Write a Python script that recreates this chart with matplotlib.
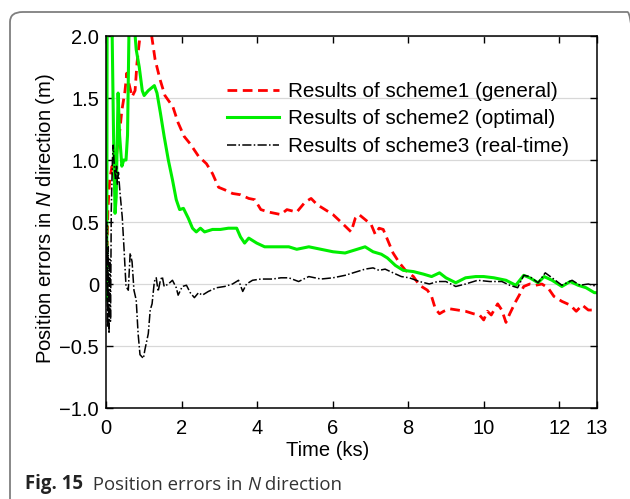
import matplotlib
matplotlib.use("Agg")
import matplotlib.pyplot as plt
from matplotlib.patches import FancyBboxPatch

# Time axis (ks) and position errors (m) for the three schemes
t_s1 = [0.0, 0.03, 0.05, 0.1, 0.16, 0.22, 0.3, 0.37, 0.42, 0.5, 0.55, 0.62, 0.69, 0.77, 0.82, 0.86,
        0.92, 1.05, 1.2, 1.3, 1.43, 1.56, 1.77, 1.91, 2.07, 2.23, 2.45, 2.66, 2.82, 2.98, 3.14,
        3.35, 3.56, 3.78, 3.94, 4.1, 4.31, 4.63, 4.79, 5.05, 5.27, 5.43, 5.59, 5.8, 6.01, 6.22,
        6.49, 6.6, 6.7, 6.86, 7.02, 7.13, 7.23, 7.34, 7.45, 7.6, 7.77, 7.93, 8.14, 8.3, 8.51,
        8.62, 8.72, 8.83, 8.94, 9.1, 9.31, 9.52, 9.73, 9.89, 10.0, 10.1, 10.2, 10.37, 10.48,
        10.59, 10.69, 10.85, 10.96, 11.06, 11.22, 11.38, 11.54, 11.7, 11.86, 12.07, 12.29,
        12.45, 12.61, 12.77, 12.93, 13.0]
err_s1 = [-0.1, 0.3, 0.6, 0.85, 0.95, 0.85, 1.1, 1.25, 1.4, 1.55, 1.7, 1.6, 1.51, 1.56, 1.78, 1.89,
          2.05, 2.25, 2.02, 1.81, 1.65, 1.52, 1.43, 1.30, 1.19, 1.13, 1.03, 0.97, 0.89, 0.78, 0.76,
          0.73, 0.72, 0.69, 0.68, 0.60, 0.58, 0.56, 0.60, 0.58, 0.66, 0.69, 0.64, 0.60, 0.56, 0.50,
          0.42, 0.53, 0.56, 0.52, 0.48, 0.40, 0.45, 0.44, 0.36, 0.25, 0.17, 0.11, 0.06, -0.01, -0.05,
          -0.10, -0.20, -0.24, -0.22, -0.20, -0.21, -0.22, -0.24, -0.25, -0.29, -0.22, -0.25,
          -0.16, -0.21, -0.31, -0.24, -0.14, -0.08, -0.02, 0.0, -0.01, 0.0, -0.03, -0.10, -0.14,
          -0.17, -0.22, -0.17, -0.21, -0.21, -0.21]

t_s2 = [0.0, 0.02, 0.03, 0.06, 0.1, 0.15, 0.2, 0.24, 0.27, 0.32, 0.36, 0.42, 0.47, 0.53, 0.57,
        0.62, 0.72, 0.8, 0.88, 0.96, 1.01, 1.12, 1.28, 1.35, 1.44, 1.54, 1.65, 1.76, 1.86, 1.95,
        2.05, 2.18, 2.29, 2.39, 2.5, 2.61, 2.82, 3.03, 3.24, 3.46, 3.56, 3.67, 3.78, 3.99, 4.2,
        4.52, 4.84, 5.05, 5.37, 5.69, 6.01, 6.33, 6.65, 6.86, 7.07, 7.29, 7.45, 7.66, 7.87, 8.14,
        8.4, 8.62, 8.83, 9.0, 9.26, 9.52, 9.79, 10.0, 10.27, 10.59, 10.85, 11.06, 11.22, 11.44,
        11.6, 11.81, 12.07, 12.29, 12.5, 12.71, 12.93, 13.0]
err_s2 = [0.0, -0.13, 2.3, 2.3, 2.3, 2.3, 1.2, 0.57, 0.7, 1.54, 1.2, 0.95, 1.0, 1.0, 1.2,
          2.3, 2.2, 1.89, 1.75, 1.56, 1.52, 1.56, 1.60, 1.54, 1.38, 1.19, 1.00, 0.84, 0.68, 0.60,
          0.61, 0.53, 0.45, 0.42, 0.45, 0.42, 0.44, 0.44, 0.45, 0.45, 0.38, 0.33, 0.37, 0.33, 0.30,
          0.30, 0.30, 0.28, 0.30, 0.28, 0.26, 0.25, 0.28, 0.30, 0.26, 0.24, 0.21, 0.15, 0.11, 0.10,
          0.08, 0.06, 0.09, 0.05, 0.01, 0.05, 0.06, 0.06, 0.05, 0.03, -0.01, 0.07, 0.05, 0.01,
          0.06, 0.03, -0.02, 0.02, -0.01, -0.03, -0.07, -0.07]

t_s3 = [0.0, 0.02, 0.04, 0.06, 0.08, 0.1, 0.12, 0.14, 0.17, 0.19, 0.22, 0.25, 0.28, 0.3, 0.33,
        0.37, 0.43, 0.48, 0.53, 0.59, 0.64, 0.69, 0.74, 0.8, 0.85, 0.9, 0.99, 1.03, 1.12, 1.17,
        1.22, 1.28, 1.33, 1.38, 1.44, 1.49, 1.54, 1.65, 1.76, 1.86, 1.91, 2.02, 2.13, 2.23, 2.34,
        2.45, 2.55, 2.71, 2.93, 3.14, 3.35, 3.51, 3.62, 3.72, 3.88, 4.1, 4.41, 4.63, 4.84, 5.1,
        5.37, 5.69, 6.01, 6.33, 6.65, 6.86, 7.07, 7.23, 7.39, 7.6, 7.82, 8.03, 8.3, 8.56, 8.78,
        9.0, 9.26, 9.52, 9.84, 10.16, 10.48, 10.69, 10.9, 11.06, 11.22, 11.44, 11.63, 11.81,
        12.07, 12.34, 12.55, 12.77, 13.0]
err_s3 = [0.0, 0.5, -0.35, 0.3, -0.4, 0.2, -0.3, 0.6, 1.0, 1.12, 0.95, 0.85, 0.95, 0.8, 0.9,
          0.74, 0.54, 0.27, -0.02, -0.05, 0.25, 0.18, -0.05, -0.13, -0.40, -0.57, -0.60, -0.53,
          -0.40, -0.21, -0.16, 0.02, 0.05, -0.06, 0.03, 0.06, -0.02, 0.0, 0.03, -0.03, -0.09,
          -0.02, -0.01, -0.07, -0.11, -0.07, -0.09, -0.06, -0.03, -0.02, 0.0, 0.03, -0.06, 0.0,
          0.03, 0.04, 0.04, 0.05, 0.05, 0.02, 0.06, 0.04, 0.05, 0.07, 0.10, 0.12, 0.13, 0.11,
          0.12, 0.09, 0.06, 0.05, 0.02, 0.0, 0.02, 0.02, -0.02, 0.0, 0.03, 0.02, 0.02, -0.01,
          -0.03, 0.07, 0.06, 0.01, 0.09, 0.05, -0.01, 0.03, -0.01, 0.0, -0.02]

labels = ["Results of scheme1 (general)",
          "Results of scheme2 (optimal)",
          "Results of scheme3 (real-time)"]
x_ticks = [0, 2, 4, 6, 8, 10, 12, 13]
y_ticks = [-1.0, -0.5, 0, 0.5, 1.0, 1.5, 2.0]
y_tick_labels = ["\u22121.0", "\u22120.5", "0", "0.5", "1.0", "1.5", "2.0"]

plt.rcParams["font.family"] = ["Liberation Sans", "DejaVu Sans"]
plt.rcParams["mathtext.fontset"] = "custom"
plt.rcParams["mathtext.rm"] = "Liberation Sans"
plt.rcParams["mathtext.it"] = "Liberation Sans:italic"

fig = plt.figure(figsize=(6.3, 4.99), dpi=100)

# rounded frame around the figure panel
frame = FancyBboxPatch((10 / 630, -20 / 499), 630 / 630, (499 - 12 + 20) / 499,
                       boxstyle="round,pad=0,rounding_size=0.02",
                       transform=fig.transFigure, facecolor="none",
                       edgecolor="#7f7f7f", linewidth=1.3, clip_on=False)
fig.patches.append(frame)

ax = fig.add_axes([106 / 630, (499 - 408) / 499, 491 / 630, 372 / 499])

ax.plot(t_s1, err_s1, color="#ff0000", linewidth=2.0, linestyle=(0, (3.5, 2)), label=labels[0])
ax.plot(t_s2, err_s2, color="#00ee00", linewidth=2.2, linestyle="-", label=labels[1])
ax.plot(t_s3, err_s3, color="black", linewidth=1.1, linestyle=(0, (6, 1.5, 1, 1.5)), label=labels[2])

ax.set_xlim(0, 13)
ax.set_ylim(-1.0, 2.0)
ax.set_xticks(x_ticks)
ax.set_yticks(y_ticks)
ax.set_yticklabels(y_tick_labels)
ax.grid(axis="y", color="#d8d8d8", linewidth=0.9)
ax.set_axisbelow(True)
ax.tick_params(direction="in", length=5, width=1, top=True, right=True,
               labelsize=14.5, pad=5)
ax.tick_params(axis="x", pad=8)
for s in ax.spines.values():
    s.set_linewidth(1.1)

ax.set_xlabel("Time (ks)", fontsize=14.5)
ax.xaxis.set_label_coords(0.452, -0.09)
ax.set_ylabel("Position errors in $\\it{N}$ direction (m)", fontsize=14.6)
ax.yaxis.set_label_coords(-0.1, 0.51)

leg = ax.legend(loc="upper left", bbox_to_anchor=(0.247, 0.877), frameon=False, fontsize=14.9,
                handlelength=2.5, handletextpad=0.45, labelspacing=0.42, borderaxespad=0,
                borderpad=0)

# caption below the chart
cap_font = ["Open Sans", "DejaVu Sans"]
t1 = fig.text(25 / 630, 1 - 489 / 499, "Fig. 15", fontweight="bold", fontsize=13.4,
              color="#222222", family=cap_font, va="baseline")
t2 = ax.annotate("  Position errors in ", xy=(1, 0), xycoords=t1, va="bottom",
                 fontsize=13.4, color="#333333", family=cap_font)
t3 = ax.annotate("N", xy=(1, 0), xycoords=t2, va="bottom", fontsize=13.4, color="#333333",
                 style="italic", family=cap_font)
ax.annotate(" direction", xy=(1, 0), xycoords=t3, va="bottom", fontsize=13.4, color="#333333",
            family=cap_font)

fig.savefig("out.png", dpi=100)
